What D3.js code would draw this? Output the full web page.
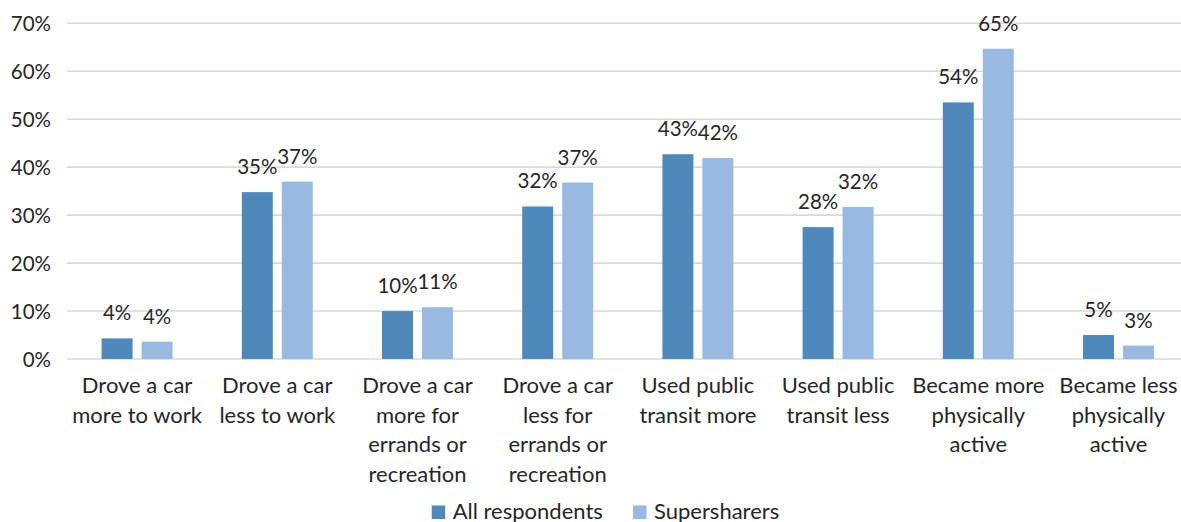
<!DOCTYPE html>
<html>
<head>
<meta charset="utf-8">
<script src="https://cdn.jsdelivr.net/npm/d3@7"></script>
<style>
  html, body { margin: 0; padding: 0; background: #fff; }
  svg { display: block; }
  text { font-family: Lato, "Open Sans", sans-serif; fill: #262626; }
</style>
</head>
<body>
<svg id="chart" width="1181" height="522"></svg>
<script>
const categories = [
  "Drove a car|more to work",
  "Drove a car|less to work",
  "Drove a car|more for|errands or|recreation",
  "Drove a car|less for|errands or|recreation",
  "Used public|transit more",
  "Used public|transit less",
  "Became more|physically|active",
  "Became less|physically|active"
];
const seriesNames = ["All respondents", "Supersharers"];
const allRespondents = [0.043, 0.348, 0.100, 0.318, 0.427, 0.275, 0.535, 0.050];
const supersharers   = [0.036, 0.370, 0.108, 0.368, 0.419, 0.317, 0.647, 0.028];
const yTicks = [0, 0.1, 0.2, 0.3, 0.4, 0.5, 0.6, 0.7];
const colors = ["#4f89bc", "#98b9e1"];

const seriesValues = [allRespondents, supersharers];
const svg = d3.select("#chart");
const W = 1181, H = 522;
const plotLeft = 67, step = 140.2;
const plotRight = plotLeft + step * categories.length;
const y0 = 359, yTop = 23.3;

const x0 = d3.scaleBand().domain(categories).range([plotLeft, plotRight])
  .paddingInner(0.4936).paddingOuter(0.2468);
const x1 = d3.scaleBand().domain(seriesNames).range([0, x0.bandwidth()])
  .paddingInner(0.225).paddingOuter(0);
const y = d3.scaleLinear().domain([0, 0.7]).range([y0, yTop]);
const fmt = d3.format(".0%");

// gridlines
svg.append("g").selectAll("line").data(yTicks).join("line")
  .attr("x1", plotLeft).attr("x2", W)
  .attr("y1", d => y(d)).attr("y2", d => y(d))
  .attr("stroke", "#d9d9d9").attr("stroke-width", 1.6);

// y axis labels
const yAxis = d3.axisLeft(y).tickValues(yTicks).tickFormat(fmt).tickSize(0).tickPadding(0);
const ya = svg.append("g").attr("transform", `translate(51,0)`).call(yAxis);
ya.select(".domain").remove();
ya.selectAll("text").attr("font-size", 20.5).attr("font-family", "Lato, 'Open Sans', sans-serif")
  .attr("fill", "#262626").attr("dy", "0.36em");

// bars
const groups = svg.append("g").selectAll("g").data(categories).join("g")
  .attr("transform", d => `translate(${x0(d)},0)`);

const cells = groups.selectAll("g.cell")
  .data((c, i) => seriesNames.map((s, j) => ({ s, j, v: seriesValues[j][i] })))
  .join("g").attr("class", "cell");

cells.append("rect")
  .attr("x", d => x1(d.s)).attr("width", x1.bandwidth())
  .attr("y", d => y(d.v)).attr("height", d => y0 - y(d.v))
  .attr("fill", d => colors[d.j]);

cells.append("text")
  .attr("x", d => x1(d.s) + x1.bandwidth() / 2)
  .attr("y", d => y(d.v) - 18)
  .attr("text-anchor", "middle").attr("font-size", 20.5)
  .text(d => fmt(d.v));

// category labels
const xl = svg.append("g");
categories.forEach(c => {
  const cx = x0(c) + x0.bandwidth() / 2;
  const t = xl.append("text").attr("text-anchor", "middle").attr("font-size", 22).attr("x", cx);
  c.split("|").forEach((line, k) => {
    t.append("tspan").attr("x", cx).attr("y", 393 + k * 29.5).text(line);
  });
});

// legend
const legend = svg.append("g");
const legX = [431.7, 633];
seriesNames.forEach((s, j) => {
  legend.append("rect").attr("x", legX[j]).attr("y", 505.5).attr("width", 13.5).attr("height", 13.5).attr("fill", colors[j]);
  legend.append("text").attr("x", legX[j] + 21).attr("y", 518.5).attr("font-size", 22).text(s);
});
</script>
</body>
</html>
